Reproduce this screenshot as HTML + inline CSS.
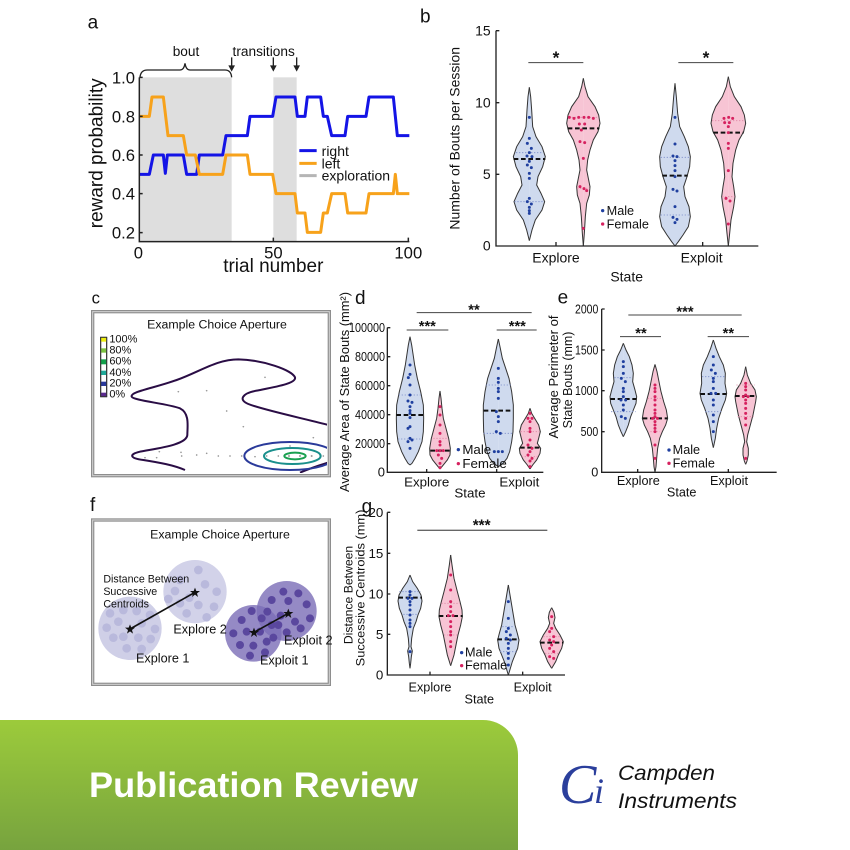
<!DOCTYPE html>
<html>
<head>
<meta charset="utf-8">
<style>
html,body{margin:0;padding:0;background:#fff;}
svg{display:block;}
text{font-family:"Liberation Sans",Arial,sans-serif;fill:#111;}
</style>
</head>
<body>
<svg width="850" height="850" viewBox="0 0 850 850" xmlns="http://www.w3.org/2000/svg">
<defs>
  <!-- panel b violins -->
  <path id="b1" d="M0,262 L4,290 L7,330 L10,380 L20,410 L38,440 L48,470 L40,500 L26,530 L22,555 L35,580 L46,605 L38,630 L18,660 L8,690 L0,722"/>
  <path id="b2" d="M0,235 L5,260 L14,290 L35,320 L46,345 L50,370 L44,395 L30,420 L20,450 L13,480 L10,510 L16,540 L20,560 L18,585 L10,610 L6,650 L3,700 L0,738"/>
  <path id="b3" d="M0,250 L4,290 L8,340 L14,380 L28,410 L40,440 L46,470 L44,500 L36,530 L26,560 L30,590 L42,620 L46,650 L40,680 L24,705 L10,725 L0,738"/>
  <path id="b4" d="M0,230 L6,260 L18,290 L38,320 L48,345 L52,370 L46,395 L32,420 L22,450 L14,490 L11,530 L16,560 L20,590 L16,620 L8,660 L4,700 L0,738"/>
  <!-- panel d -->
  <path id="d1" d="M0,155 L5,180 L8,200 L14,240 L22,280 L32,320 L40,360 L41,400 L40,440 L36,470 L25,500 L15,520 L6,535 L0,540"/>
  <path id="d2" d="M0,318 L3,340 L6,370 L10,400 L18,430 L26,460 L31,490 L30,510 L22,525 L10,540 L0,552"/>
  <path id="d3" d="M0,162 L6,190 L12,220 L22,250 L32,280 L40,320 L45,360 L45,400 L44,440 L40,470 L34,500 L26,520 L14,535 L0,545"/>
  <path id="d4" d="M0,370 L5,385 L14,400 L26,420 L31,440 L26,460 L22,475 L32,490 L30,505 L20,525 L8,540 L0,552"/>
  <!-- panel e -->
  <path id="e1" d="M0,175 L8,195 L18,215 L26,240 L30,265 L28,290 L35,315 L40,335 L38,355 L30,375 L22,395 L15,420 L7,440 L0,455"/>
  <path id="e2" d="M0,238 L6,260 L12,290 L18,320 L26,350 L34,375 L38,400 L32,420 L22,440 L14,460 L8,490 L5,520 L3,545 L0,562"/>
  <path id="e3" d="M0,165 L8,190 L18,215 L30,240 L36,265 L35,295 L40,325 L36,345 L26,370 L16,400 L10,430 L6,460 L0,488"/>
  <path id="e4" d="M0,245 L5,270 L15,295 L28,315 L32,335 L30,350 L26,370 L22,390 L14,420 L6,450 L3,470 L8,490 L8,510 L4,528 L0,538"/>
  <!-- panel g -->
  <path id="g1" d="M0,240 L8,260 L22,280 L33,300 L36,318 L32,340 L24,360 L18,380 L10,400 L5,430 L3,455 L7,468 L4,485 L2,505 L0,520"/>
  <path id="g2" d="M0,180 L4,210 L10,250 L20,290 L28,320 L34,345 L35,365 L30,390 L22,420 L16,450 L10,480 L0,512"/>
  <path id="g3" d="M0,270 L5,300 L10,330 L15,360 L20,390 L27,415 L32,435 L28,460 L20,480 L12,500 L6,520 L0,540"/>
  <path id="g4" d="M0,338 L7,352 L10,368 L6,385 L12,400 L25,420 L35,440 L30,460 L20,480 L12,500 L0,520"/>
  <clipPath id="cclip"><rect x="15" y="-48" width="696" height="477"/></clipPath>
  <linearGradient id="grn" x1="0" y1="0" x2="0" y2="1">
    <stop offset="0" stop-color="#9ccb3b"/>
    <stop offset="1" stop-color="#77a33e"/>
  </linearGradient>
</defs>

<!-- ================= PANEL A ================= -->
<g transform="translate(50,0) scale(0.333333)">
  <rect x="268" y="232" width="277" height="493" fill="#dedede"/>
  <rect x="670" y="232" width="70" height="493" fill="#dedede"/>
  <polyline fill="none" stroke="#1414e6" stroke-width="9" stroke-linejoin="round" points="268,523 298,523 310,465 340,465 346,520 352,465 400,465 410,523 440,523 448,465 518,465 528,407 592,407 600,349 668,349 678,291 735,291 742,349 765,349 772,291 812,291 820,349 832,349 845,407 885,407 893,349 948,349 957,291 1030,291 1042,407 1078,407"/>
  <polyline fill="none" stroke="#f7a21b" stroke-width="9" stroke-linejoin="round" points="268,349 298,349 306,291 340,291 354,407 400,407 410,465 436,465 448,523 518,523 528,465 592,465 600,523 668,523 678,581 735,581 742,639 765,639 772,697 812,697 820,639 832,639 845,581 885,581 893,639 948,639 957,581 1030,581 1036,523 1042,581 1078,581"/>
  <path d="M268,232 V725 H1078" fill="none" stroke="#222" stroke-width="4.5"/>
  <path d="M268,232 h10 M268,349 h10 M268,465 h10 M268,581 h10 M268,698 h10 M670,725 v-12 M1075,725 v-12" stroke="#222" stroke-width="4.5"/>
  <g font-size="50" text-anchor="end">
    <text x="255" y="250">1.0</text>
    <text x="255" y="367">0.8</text>
    <text x="255" y="483">0.6</text>
    <text x="255" y="599">0.4</text>
    <text x="255" y="716">0.2</text>
  </g>
  <g font-size="50" text-anchor="middle">
    <text x="265" y="776">0</text>
    <text x="670" y="776">50</text>
    <text x="1075" y="776">100</text>
  </g>
  <text x="670" y="816" font-size="57" text-anchor="middle">trial number</text>
  <text transform="translate(157,460) rotate(-90)" font-size="57" text-anchor="middle">reward probability</text>
  <text x="113" y="85" font-size="57">a</text>
  <path d="M270,232 Q272,210 292,210 L390,210 Q402,210 405,190 Q408,210 420,210 L525,210 Q543,210 545,232" fill="none" stroke="#222" stroke-width="4"/>
  <text x="408" y="168" font-size="41" text-anchor="middle">bout</text>
  <text x="641" y="168" font-size="41" text-anchor="middle">transitions</text>
  <path d="M545,172 V200 M670,172 V200 M740,172 V200" stroke="#222" stroke-width="4"/>
  <polygon points="535,196 555,196 545,215" fill="#222"/>
  <polygon points="660,196 680,196 670,215" fill="#222"/>
  <polygon points="730,196 750,196 740,215" fill="#222"/>
  <path d="M748,452 H800" stroke="#1414e6" stroke-width="9"/>
  <path d="M748,490 H800" stroke="#f7a21b" stroke-width="9"/>
  <path d="M748,527 H800" stroke="#b5b5b5" stroke-width="9"/>
  <g font-size="42">
    <text x="815" y="468">right</text>
    <text x="815" y="505">left</text>
    <text x="815" y="542">exploration</text>
  </g>
</g>

<!-- ================= PANEL B ================= -->
<g transform="translate(420,0) scale(0.333333)">
  <text x="0" y="68" font-size="57">b</text>
  <g stroke="#333" stroke-width="3">
    <g transform="translate(328,0)"><use href="#b1" fill="#cfdaee"/><use href="#b1" fill="#cfdaee" transform="scale(-1,1)"/></g>
    <g transform="translate(490,0)"><use href="#b2" fill="#f7c4d4"/><use href="#b2" fill="#f7c4d4" transform="scale(-1,1)"/></g>
    <g transform="translate(765,0)"><use href="#b3" fill="#cfdaee"/><use href="#b3" fill="#cfdaee" transform="scale(-1,1)"/></g>
    <g transform="translate(925,0)"><use href="#b4" fill="#f7c4d4"/><use href="#b4" fill="#f7c4d4" transform="scale(-1,1)"/></g>
  </g>
  <g stroke-width="2.5" stroke-dasharray="4 5">
    <path d="M288,458 H368 M283,605 H373 M722,472 H808 M722,645 H808" stroke="#7f90cc"/>
    <path d="M446,352 H534 M471,565 H509 M876,362 H974 M906,590 H944" stroke="#e08aa8"/>
  </g>
  <g stroke="#111" stroke-width="6" stroke-dasharray="14 8">
    <path d="M281,477 H376 M443,385 H538 M727,527 H803 M880,398 H971"/>
  </g>
  <g fill="#1f3f9f">
    <circle cx="328" cy="352" r="4.5"/><circle cx="328" cy="415" r="4.5"/><circle cx="322" cy="430" r="4.5"/><circle cx="334" cy="445" r="4.5"/><circle cx="328" cy="458" r="4.5"/><circle cx="321" cy="468" r="4.5"/><circle cx="336" cy="470" r="4.5"/><circle cx="328" cy="484" r="4.5"/><circle cx="322" cy="495" r="4.5"/><circle cx="334" cy="503" r="4.5"/><circle cx="328" cy="520" r="4.5"/><circle cx="328" cy="535" r="4.5"/><circle cx="328" cy="595" r="4.5"/><circle cx="322" cy="605" r="4.5"/><circle cx="334" cy="612" r="4.5"/><circle cx="328" cy="622" r="4.5"/><circle cx="328" cy="632" r="4.5"/><circle cx="328" cy="640" r="4.5"/>
    <circle cx="765" cy="352" r="4.5"/><circle cx="765" cy="432" r="4.5"/><circle cx="759" cy="468" r="4.5"/><circle cx="771" cy="470" r="4.5"/><circle cx="765" cy="482" r="4.5"/><circle cx="765" cy="497" r="4.5"/><circle cx="765" cy="512" r="4.5"/><circle cx="765" cy="530" r="4.5"/><circle cx="759" cy="568" r="4.5"/><circle cx="771" cy="573" r="4.5"/><circle cx="765" cy="620" r="4.5"/><circle cx="759" cy="652" r="4.5"/><circle cx="771" cy="658" r="4.5"/><circle cx="765" cy="668" r="4.5"/>
    <circle cx="548" cy="632" r="5"/>
  </g>
  <g fill="#d6215f">
    <circle cx="448" cy="352" r="4.5"/><circle cx="462" cy="355" r="4.5"/><circle cx="476" cy="352" r="4.5"/><circle cx="492" cy="352" r="4.5"/><circle cx="506" cy="352" r="4.5"/><circle cx="520" cy="355" r="4.5"/><circle cx="478" cy="372" r="4.5"/><circle cx="494" cy="372" r="4.5"/><circle cx="484" cy="390" r="4.5"/><circle cx="480" cy="425" r="4.5"/><circle cx="494" cy="428" r="4.5"/><circle cx="490" cy="475" r="4.5"/><circle cx="480" cy="560" r="4.5"/><circle cx="492" cy="566" r="4.5"/><circle cx="500" cy="572" r="4.5"/><circle cx="490" cy="685" r="4.5"/>
    <circle cx="912" cy="355" r="4.5"/><circle cx="926" cy="352" r="4.5"/><circle cx="938" cy="355" r="4.5"/><circle cx="914" cy="368" r="4.5"/><circle cx="928" cy="368" r="4.5"/><circle cx="925" cy="380" r="4.5"/><circle cx="925" cy="398" r="4.5"/><circle cx="925" cy="430" r="4.5"/><circle cx="925" cy="445" r="4.5"/><circle cx="925" cy="512" r="4.5"/><circle cx="918" cy="595" r="4.5"/><circle cx="930" cy="603" r="4.5"/><circle cx="925" cy="672" r="4.5"/>
    <circle cx="548" cy="672" r="5"/>
  </g>
  <path d="M228,92 V738 H1015" fill="none" stroke="#222" stroke-width="4"/>
  <path d="M228,92 h10 M228,308 h10 M228,523 h10 M408,738 v-12 M848,738 v-12" stroke="#222" stroke-width="4"/>
  <g font-size="42" text-anchor="end">
    <text x="212" y="106">15</text>
    <text x="212" y="322">10</text>
    <text x="212" y="537">5</text>
    <text x="212" y="752">0</text>
  </g>
  <g font-size="42" text-anchor="middle">
    <text x="408" y="788">Explore</text>
    <text x="845" y="788">Exploit</text>
    <text x="620" y="845">State</text>
  </g>
  <text transform="translate(118,415) rotate(-90)" font-size="42" text-anchor="middle">Number of Bouts per Session</text>
  <path d="M325,188 H490 M775,188 H940" stroke="#444" stroke-width="3"/>
  <g font-size="52" font-weight="bold" text-anchor="middle">
    <text x="408" y="190">*</text>
    <text x="858" y="190">*</text>
  </g>
  <g font-size="38">
    <text x="560" y="645">Male</text>
    <text x="560" y="685">Female</text>
  </g>
</g>

<!-- ================= PANEL C ================= -->
<g transform="translate(80,285) scale(0.333333)">
  <text x="35" y="56" font-size="50">c</text>
  <rect x="38" y="80" width="710" height="492" fill="#fff" stroke="#8e8e8e" stroke-width="10"/>
  <rect x="38" y="80" width="710" height="492" fill="none" stroke="#d4d4d4" stroke-width="3"/>
  <text x="411" y="130" font-size="37" text-anchor="middle">Example Choice Aperture</text>
</g>
<g transform="translate(90,330) scale(0.333333)">
  <rect x="32" y="22" width="18" height="178" fill="#fff" stroke="#222" stroke-width="3"/>
  <rect x="32" y="22" width="18" height="13" fill="#eeee10"/>
  <rect x="32" y="55" width="18" height="13" fill="#7cc242"/>
  <rect x="32" y="88" width="18" height="15" fill="#13a04a"/>
  <rect x="32" y="122" width="18" height="13" fill="#1ea898"/>
  <rect x="32" y="155" width="18" height="13" fill="#28389a"/>
  <rect x="32" y="188" width="18" height="12" fill="#5a2a8e"/>
  <rect x="32" y="22" width="18" height="178" fill="none" stroke="#333" stroke-width="3"/>
  <g font-size="33">
    <text x="58" y="38">100%</text>
    <text x="58" y="71">80%</text>
    <text x="58" y="104">60%</text>
    <text x="58" y="138">40%</text>
    <text x="58" y="170">20%</text>
    <text x="58" y="203">0%</text>
  </g>
  <g clip-path="url(#cclip)">
    <path d="M715,285 C640,265 520,240 475,222 C445,210 455,190 500,182 C560,170 620,160 615,142 C605,120 520,90 445,88 C380,88 330,125 260,150 C190,175 120,185 125,200 C130,212 230,220 270,235 C300,250 292,290 292,315 C290,345 200,355 150,365 C115,373 120,385 160,390 C210,398 250,405 285,420 M720,396 C690,405 660,415 630,428" fill="none" stroke="#2a0d45" stroke-width="6"/>
    <ellipse cx="600" cy="378" rx="137" ry="42" fill="none" stroke="#2a3a9a" stroke-width="6"/>
    <ellipse cx="607" cy="378" rx="85" ry="24" fill="none" stroke="#1a8f8c" stroke-width="6"/>
    <ellipse cx="615" cy="378" rx="32" ry="10" fill="none" stroke="#1aa050" stroke-width="6"/>
    <g fill="#999">
      <circle cx="265" cy="185" r="2.5"/><circle cx="350" cy="182" r="2.5"/><circle cx="525" cy="142" r="2.5"/><circle cx="410" cy="243" r="2.5"/><circle cx="460" cy="290" r="2.5"/><circle cx="670" cy="323" r="2.5"/><circle cx="600" cy="348" r="2.5"/>
      <circle cx="165" cy="383" r="2.5"/><circle cx="208" cy="365" r="2.5"/><circle cx="273" cy="367" r="2.5"/><circle cx="275" cy="378" r="2.5"/><circle cx="320" cy="375" r="2.5"/><circle cx="350" cy="370" r="2.5"/><circle cx="385" cy="378" r="2.5"/><circle cx="420" cy="378" r="2.5"/><circle cx="455" cy="378" r="2.5"/><circle cx="495" cy="380" r="2.5"/><circle cx="530" cy="378" r="2.5"/><circle cx="565" cy="378" r="2.5"/><circle cx="597" cy="378" r="3"/><circle cx="630" cy="378" r="3"/><circle cx="665" cy="378" r="3"/><circle cx="700" cy="378" r="2.5"/><circle cx="200" cy="383" r="2.5"/>
    </g>
  </g>
</g>

<!-- ================= PANEL D ================= -->
<g transform="translate(330,285) scale(0.333333)">
  <text x="75" y="57" font-size="57">d</text>
  <g stroke="#333" stroke-width="3">
    <g transform="translate(240,0)"><use href="#d1" fill="#cfdaee"/><use href="#d1" fill="#cfdaee" transform="scale(-1,1)"/></g>
    <g transform="translate(330,0)"><use href="#d2" fill="#f7c4d4"/><use href="#d2" fill="#f7c4d4" transform="scale(-1,1)"/></g>
    <g transform="translate(505,0)"><use href="#d3" fill="#cfdaee"/><use href="#d3" fill="#cfdaee" transform="scale(-1,1)"/></g>
    <g transform="translate(600,0)"><use href="#d4" fill="#f7c4d4"/><use href="#d4" fill="#f7c4d4" transform="scale(-1,1)"/></g>
  </g>
  <g stroke-width="2.5" stroke-dasharray="4 5">
    <path d="M206,330 H274 M204,462 H276 M467,300 H543 M461,445 H549" stroke="#7f90cc"/>
    <path d="M310,460 H350 M572,440 H628 M575,515 H625" stroke="#e08aa8"/>
  </g>
  <g stroke="#111" stroke-width="6" stroke-dasharray="14 8">
    <path d="M199,390 H281 M301,497 H359 M461,377 H549 M570,488 H630"/>
  </g>
  <g fill="#1f3f9f">
    <circle cx="240" cy="240" r="4.5"/><circle cx="240" cy="268" r="4.5"/><circle cx="235" cy="278" r="4.5"/><circle cx="240" cy="300" r="4.5"/><circle cx="240" cy="330" r="4.5"/><circle cx="234" cy="348" r="4.5"/><circle cx="246" cy="352" r="4.5"/><circle cx="240" cy="365" r="4.5"/><circle cx="240" cy="377" r="4.5"/><circle cx="240" cy="385" r="4.5"/><circle cx="240" cy="398" r="4.5"/><circle cx="240" cy="425" r="4.5"/><circle cx="234" cy="430" r="4.5"/><circle cx="240" cy="460" r="4.5"/><circle cx="246" cy="465" r="4.5"/><circle cx="234" cy="470" r="4.5"/><circle cx="240" cy="490" r="4.5"/>
    <circle cx="505" cy="250" r="4.5"/><circle cx="505" cy="280" r="4.5"/><circle cx="505" cy="292" r="4.5"/><circle cx="505" cy="310" r="4.5"/><circle cx="505" cy="320" r="4.5"/><circle cx="505" cy="340" r="4.5"/><circle cx="499" cy="380" r="4.5"/><circle cx="505" cy="395" r="4.5"/><circle cx="505" cy="410" r="4.5"/><circle cx="499" cy="440" r="4.5"/><circle cx="511" cy="445" r="4.5"/><circle cx="493" cy="500" r="4.5"/><circle cx="505" cy="500" r="4.5"/><circle cx="517" cy="500" r="4.5"/>
    <circle cx="385" cy="494" r="5"/>
  </g>
  <g fill="#d6215f">
    <circle cx="330" cy="365" r="4.5"/><circle cx="330" cy="390" r="4.5"/><circle cx="330" cy="420" r="4.5"/><circle cx="330" cy="445" r="4.5"/><circle cx="330" cy="470" r="4.5"/><circle cx="330" cy="480" r="4.5"/><circle cx="320" cy="497" r="4.5"/><circle cx="330" cy="497" r="4.5"/><circle cx="340" cy="497" r="4.5"/><circle cx="325" cy="510" r="4.5"/><circle cx="335" cy="520" r="4.5"/><circle cx="330" cy="535" r="4.5"/><circle cx="330" cy="548" r="4.5"/>
    <circle cx="600" cy="385" r="4.5"/><circle cx="594" cy="400" r="4.5"/><circle cx="606" cy="400" r="4.5"/><circle cx="600" cy="410" r="4.5"/><circle cx="600" cy="430" r="4.5"/><circle cx="600" cy="440" r="4.5"/><circle cx="600" cy="465" r="4.5"/><circle cx="594" cy="480" r="4.5"/><circle cx="606" cy="490" r="4.5"/><circle cx="600" cy="500" r="4.5"/><circle cx="594" cy="510" r="4.5"/><circle cx="606" cy="520" r="4.5"/><circle cx="600" cy="528" r="4.5"/><circle cx="600" cy="545" r="4.5"/>
    <circle cx="385" cy="536" r="5"/>
  </g>
  <path d="M172,128 V562 H640" fill="none" stroke="#222" stroke-width="4"/>
  <path d="M172,128 h9 M172,215 h9 M172,302 h9 M172,389 h9 M172,476 h9 M290,562 v-10 M500,562 v-10" stroke="#222" stroke-width="4"/>
  <g font-size="39" text-anchor="end">
    <text x="165" y="141" textLength="108" lengthAdjust="spacingAndGlyphs">100000</text>
    <text x="165" y="228" textLength="90" lengthAdjust="spacingAndGlyphs">80000</text>
    <text x="165" y="315" textLength="90" lengthAdjust="spacingAndGlyphs">60000</text>
    <text x="165" y="402" textLength="90" lengthAdjust="spacingAndGlyphs">40000</text>
    <text x="165" y="489" textLength="90" lengthAdjust="spacingAndGlyphs">20000</text>
    <text x="165" y="575">0</text>
  </g>
  <g font-size="40" text-anchor="middle">
    <text x="290" y="605">Explore</text>
    <text x="568" y="605">Exploit</text>
    <text x="420" y="637">State</text>
  </g>
  <text transform="translate(57,321) rotate(-90)" font-size="39" text-anchor="middle" textLength="600" lengthAdjust="spacingAndGlyphs">Average Area of State Bouts (mm²)</text>
  <path d="M260,83 H605 M230,135 H355 M500,135 H620" stroke="#444" stroke-width="3"/>
  <g font-size="44" font-weight="bold" text-anchor="middle">
    <text x="432" y="88">**</text>
    <text x="292" y="138">***</text>
    <text x="562" y="138">***</text>
  </g>
  <g font-size="40">
    <text x="397" y="507">Male</text>
    <text x="397" y="549">Female</text>
  </g>
</g>

<!-- ================= PANEL E ================= -->
<g transform="translate(555,285) scale(0.333333)">
  <text x="8" y="55" font-size="57">e</text>
  <g stroke="#333" stroke-width="3">
    <g transform="translate(205,0)"><use href="#e1" fill="#cfdaee"/><use href="#e1" fill="#cfdaee" transform="scale(-1,1)"/></g>
    <g transform="translate(300,0)"><use href="#e2" fill="#f7c4d4"/><use href="#e2" fill="#f7c4d4" transform="scale(-1,1)"/></g>
    <g transform="translate(475,0)"><use href="#e3" fill="#cfdaee"/><use href="#e3" fill="#cfdaee" transform="scale(-1,1)"/></g>
    <g transform="translate(572,0)"><use href="#e4" fill="#f7c4d4"/><use href="#e4" fill="#f7c4d4" transform="scale(-1,1)"/></g>
  </g>
  <g stroke-width="2.5" stroke-dasharray="4 5">
    <path d="M178,278 H232 M168,380 H242 M441,275 H509 M450,380 H500" stroke="#7f90cc"/>
    <path d="M278,340 H322 M286,440 H314 M544,300 H600 M548,395 H596" stroke="#e08aa8"/>
  </g>
  <g stroke="#111" stroke-width="6" stroke-dasharray="14 8">
    <path d="M166,342 H244 M263,400 H337 M436,327 H514 M540,333 H604"/>
  </g>
  <g fill="#1f3f9f">
    <circle cx="205" cy="230" r="4.5"/><circle cx="205" cy="245" r="4.5"/><circle cx="205" cy="265" r="4.5"/><circle cx="199" cy="280" r="4.5"/><circle cx="211" cy="290" r="4.5"/><circle cx="205" cy="310" r="4.5"/><circle cx="205" cy="320" r="4.5"/><circle cx="205" cy="335" r="4.5"/><circle cx="198" cy="345" r="4.5"/><circle cx="212" cy="345" r="4.5"/><circle cx="205" cy="360" r="4.5"/><circle cx="205" cy="375" r="4.5"/><circle cx="199" cy="395" r="4.5"/><circle cx="211" cy="400" r="4.5"/>
    <circle cx="475" cy="215" r="4.5"/><circle cx="475" cy="240" r="4.5"/><circle cx="469" cy="255" r="4.5"/><circle cx="481" cy="265" r="4.5"/><circle cx="475" cy="280" r="4.5"/><circle cx="475" cy="290" r="4.5"/><circle cx="475" cy="310" r="4.5"/><circle cx="468" cy="325" r="4.5"/><circle cx="482" cy="325" r="4.5"/><circle cx="475" cy="345" r="4.5"/><circle cx="475" cy="360" r="4.5"/><circle cx="475" cy="390" r="4.5"/><circle cx="475" cy="410" r="4.5"/><circle cx="475" cy="440" r="4.5"/>
    <circle cx="342" cy="495" r="5"/>
  </g>
  <g fill="#d6215f">
    <circle cx="300" cy="300" r="4.5"/><circle cx="300" cy="310" r="4.5"/><circle cx="300" cy="320" r="4.5"/><circle cx="300" cy="335" r="4.5"/><circle cx="300" cy="345" r="4.5"/><circle cx="300" cy="360" r="4.5"/><circle cx="300" cy="375" r="4.5"/><circle cx="300" cy="385" r="4.5"/><circle cx="300" cy="395" r="4.5"/><circle cx="293" cy="400" r="4.5"/><circle cx="307" cy="400" r="4.5"/><circle cx="300" cy="410" r="4.5"/><circle cx="300" cy="420" r="4.5"/><circle cx="300" cy="430" r="4.5"/><circle cx="300" cy="440" r="4.5"/><circle cx="300" cy="480" r="4.5"/><circle cx="300" cy="520" r="4.5"/>
    <circle cx="572" cy="295" r="4.5"/><circle cx="572" cy="305" r="4.5"/><circle cx="572" cy="315" r="4.5"/><circle cx="572" cy="330" r="4.5"/><circle cx="565" cy="335" r="4.5"/><circle cx="579" cy="335" r="4.5"/><circle cx="572" cy="345" r="4.5"/><circle cx="572" cy="355" r="4.5"/><circle cx="572" cy="370" r="4.5"/><circle cx="572" cy="385" r="4.5"/><circle cx="572" cy="400" r="4.5"/><circle cx="572" cy="420" r="4.5"/><circle cx="572" cy="520" r="4.5"/>
    <circle cx="342" cy="535" r="5"/>
  </g>
  <path d="M140,72 V562 H665" fill="none" stroke="#222" stroke-width="4"/>
  <path d="M140,72 h9 M140,195 h9 M140,317 h9 M140,440 h9 M248,562 v-10 M520,562 v-10" stroke="#222" stroke-width="4"/>
  <g font-size="38" text-anchor="end">
    <text x="130" y="85" textLength="70" lengthAdjust="spacingAndGlyphs">2000</text>
    <text x="130" y="208" textLength="70" lengthAdjust="spacingAndGlyphs">1500</text>
    <text x="130" y="330" textLength="70" lengthAdjust="spacingAndGlyphs">1000</text>
    <text x="130" y="453" textLength="53" lengthAdjust="spacingAndGlyphs">500</text>
    <text x="130" y="575">0</text>
  </g>
  <g font-size="38" text-anchor="middle">
    <text x="250" y="600">Explore</text>
    <text x="522" y="600">Exploit</text>
    <text x="380" y="635">State</text>
  </g>
  <text transform="translate(9,276) rotate(-90)" font-size="38" text-anchor="middle" textLength="369" lengthAdjust="spacingAndGlyphs">Average Perimeter of</text>
  <text transform="translate(51,285) rotate(-90)" font-size="38" text-anchor="middle" textLength="290" lengthAdjust="spacingAndGlyphs">State Bouts (mm)</text>
  <path d="M220,90 H560 M195,155 H318 M458,155 H582" stroke="#444" stroke-width="3"/>
  <g font-size="44" font-weight="bold" text-anchor="middle">
    <text x="390" y="94">***</text>
    <text x="258" y="159">**</text>
    <text x="520" y="159">**</text>
  </g>
  <g font-size="38">
    <text x="353" y="507">Male</text>
    <text x="353" y="547">Female</text>
  </g>
</g>

<!-- ================= PANEL F ================= -->
<g transform="translate(80,485) scale(0.333333)">
  <text x="30" y="78" font-size="57">f</text>
  <rect x="38" y="105" width="710" height="493" fill="#fff" stroke="#8e8e8e" stroke-width="10"/>
  <rect x="38" y="105" width="710" height="493" fill="none" stroke="#d4d4d4" stroke-width="3"/>
  <text x="420" y="160" font-size="37" text-anchor="middle">Example Choice Aperture</text>
  <circle cx="150" cy="430" r="95" fill="#cfcfe7"/>
  <circle cx="345" cy="320" r="95" fill="#d2d2e9"/>
  <g fill="#b9b9dc">
    <circle cx="90" cy="385" r="13"/><circle cx="130" cy="375" r="13"/><circle cx="170" cy="378" r="13"/><circle cx="210" cy="390" r="13"/><circle cx="80" cy="428" r="13"/><circle cx="115" cy="410" r="13"/><circle cx="185" cy="415" r="13"/><circle cx="225" cy="432" r="13"/><circle cx="100" cy="458" r="13"/><circle cx="130" cy="455" r="13"/><circle cx="175" cy="458" r="13"/><circle cx="212" cy="462" r="13"/><circle cx="140" cy="490" r="13"/><circle cx="185" cy="492" r="13"/>
    <circle cx="355" cy="255" r="13"/><circle cx="300" cy="285" r="13"/><circle cx="375" cy="298" r="13"/><circle cx="285" cy="318" r="13"/><circle cx="328" cy="338" r="13"/><circle cx="410" cy="320" r="13"/><circle cx="300" cy="355" r="13"/><circle cx="355" cy="360" r="13"/><circle cx="402" cy="365" r="13"/><circle cx="320" cy="385" r="13"/><circle cx="380" cy="397" r="13"/><circle cx="265" cy="342" r="13"/>
  </g>
  <circle cx="520" cy="445" r="85" fill="#7a6db6" fill-opacity="0.8"/>
  <circle cx="620" cy="378" r="90" fill="#7a6db6" fill-opacity="0.8"/>
  <g fill="#5a479e">
    <circle cx="515" cy="378" r="12"/><circle cx="485" cy="405" r="12"/><circle cx="545" cy="400" r="12"/><circle cx="575" cy="420" r="12"/><circle cx="460" cy="445" r="12"/><circle cx="500" cy="440" r="12"/><circle cx="540" cy="440" r="12"/><circle cx="580" cy="458" r="12"/><circle cx="480" cy="480" r="12"/><circle cx="520" cy="482" r="12"/><circle cx="560" cy="470" r="12"/><circle cx="510" cy="512" r="12"/><circle cx="555" cy="502" r="12"/>
    <circle cx="610" cy="320" r="12"/><circle cx="655" cy="325" r="12"/><circle cx="575" cy="345" r="12"/><circle cx="625" cy="348" r="12"/><circle cx="680" cy="358" r="12"/><circle cx="562" cy="380" r="12"/><circle cx="602" cy="392" r="12"/><circle cx="690" cy="400" r="12"/><circle cx="645" cy="410" r="12"/><circle cx="595" cy="420" r="12"/><circle cx="662" cy="430" r="12"/><circle cx="620" cy="442" r="12"/>
  </g>
  <path d="M150,432 L345,322 M522,442 L625,385" stroke="#111" stroke-width="5"/>
  <g fill="#111">
    <polygon points="150,418 154,428 165,428 156,435 159,446 150,439 141,446 144,435 135,428 146,428"/>
    <polygon points="345,308 349,318 360,318 351,325 354,336 345,329 336,336 339,325 330,318 341,318"/>
    <polygon points="522,428 526,438 537,438 528,445 531,456 522,449 513,456 516,445 507,438 518,438"/>
    <polygon points="625,371 629,381 640,381 631,388 634,399 625,392 616,399 619,388 610,381 621,381"/>
  </g>
  <g font-size="32">
    <text x="70" y="292">Distance Between</text>
    <text x="70" y="330">Successive</text>
    <text x="70" y="368">Centroids</text>
  </g>
  <g font-size="38">
    <text x="280" y="445">Explore 2</text>
    <text x="168" y="532">Explore 1</text>
    <text x="612" y="478">Exploit 2</text>
    <text x="540" y="538">Exploit 1</text>
  </g>
</g>

<!-- ================= PANEL G ================= -->
<g transform="translate(330,495) scale(0.333333)">
  <text x="95" y="52" font-size="57">g</text>
  <g stroke="#333" stroke-width="3">
    <g transform="translate(240,0)"><use href="#g1" fill="#cfdaee"/><use href="#g1" fill="#cfdaee" transform="scale(-1,1)"/></g>
    <g transform="translate(362,0)"><use href="#g2" fill="#f7c4d4"/><use href="#g2" fill="#f7c4d4" transform="scale(-1,1)"/></g>
    <g transform="translate(535,0)"><use href="#g3" fill="#cfdaee"/><use href="#g3" fill="#cfdaee" transform="scale(-1,1)"/></g>
    <g transform="translate(665,0)"><use href="#g4" fill="#f7c4d4"/><use href="#g4" fill="#f7c4d4" transform="scale(-1,1)"/></g>
  </g>
  <g stroke-width="2.5" stroke-dasharray="4 5">
    <path d="M208,290 H272 M220,358 H260 M517,395 H553 M510,470 H560" stroke="#7f90cc"/>
    <path d="M334,325 H390 M342,420 H382 M640,425 H690 M645,475 H685" stroke="#e08aa8"/>
  </g>
  <g stroke="#111" stroke-width="6" stroke-dasharray="14 8">
    <path d="M205,308 H276 M326,363 H398 M502,433 H568 M630,443 H700"/>
  </g>
  <g fill="#1f3f9f">
    <circle cx="240" cy="290" r="4.5"/><circle cx="240" cy="300" r="4.5"/><circle cx="234" cy="310" r="4.5"/><circle cx="246" cy="310" r="4.5"/><circle cx="240" cy="320" r="4.5"/><circle cx="240" cy="330" r="4.5"/><circle cx="240" cy="345" r="4.5"/><circle cx="240" cy="360" r="4.5"/><circle cx="240" cy="375" r="4.5"/><circle cx="240" cy="385" r="4.5"/><circle cx="240" cy="395" r="4.5"/><circle cx="240" cy="470" r="4.5"/>
    <circle cx="535" cy="320" r="4.5"/><circle cx="535" cy="370" r="4.5"/><circle cx="535" cy="400" r="4.5"/><circle cx="529" cy="410" r="4.5"/><circle cx="541" cy="420" r="4.5"/><circle cx="529" cy="430" r="4.5"/><circle cx="541" cy="435" r="4.5"/><circle cx="535" cy="445" r="4.5"/><circle cx="535" cy="460" r="4.5"/><circle cx="535" cy="475" r="4.5"/><circle cx="535" cy="490" r="4.5"/><circle cx="535" cy="510" r="4.5"/>
    <circle cx="395" cy="473" r="5"/>
  </g>
  <g fill="#d6215f">
    <circle cx="362" cy="240" r="4.5"/><circle cx="362" cy="285" r="4.5"/><circle cx="362" cy="320" r="4.5"/><circle cx="362" cy="335" r="4.5"/><circle cx="362" cy="350" r="4.5"/><circle cx="355" cy="362" r="4.5"/><circle cx="369" cy="362" r="4.5"/><circle cx="362" cy="380" r="4.5"/><circle cx="362" cy="395" r="4.5"/><circle cx="362" cy="410" r="4.5"/><circle cx="362" cy="420" r="4.5"/><circle cx="362" cy="440" r="4.5"/><circle cx="362" cy="455" r="4.5"/>
    <circle cx="665" cy="365" r="4.5"/><circle cx="665" cy="400" r="4.5"/><circle cx="659" cy="410" r="4.5"/><circle cx="671" cy="425" r="4.5"/><circle cx="659" cy="435" r="4.5"/><circle cx="671" cy="440" r="4.5"/><circle cx="665" cy="450" r="4.5"/><circle cx="659" cy="460" r="4.5"/><circle cx="671" cy="470" r="4.5"/><circle cx="659" cy="485" r="4.5"/><circle cx="671" cy="490" r="4.5"/>
    <circle cx="395" cy="512" r="5"/>
  </g>
  <path d="M172,52 V540 H705" fill="none" stroke="#222" stroke-width="4"/>
  <path d="M172,52 h9 M172,175 h9 M172,297 h9 M172,418 h9 M300,540 v-10 M578,540 v-10" stroke="#222" stroke-width="4"/>
  <g font-size="40" text-anchor="end">
    <text x="160" y="66">20</text>
    <text x="160" y="189">15</text>
    <text x="160" y="311">10</text>
    <text x="160" y="432">5</text>
    <text x="160" y="554">0</text>
  </g>
  <g font-size="38" text-anchor="middle">
    <text x="300" y="590">Explore</text>
    <text x="608" y="590">Exploit</text>
    <text x="448" y="625">State</text>
  </g>
  <text transform="translate(67,300) rotate(-90)" font-size="37" text-anchor="middle" textLength="295" lengthAdjust="spacingAndGlyphs">Distance Between</text>
  <text transform="translate(103,279) rotate(-90)" font-size="37" text-anchor="middle" textLength="470" lengthAdjust="spacingAndGlyphs">Successive Centroids (mm)</text>
  <path d="M262,106 H652" stroke="#666" stroke-width="4"/>
  <g font-size="46" font-weight="bold" text-anchor="middle">
    <text x="455" y="107">***</text>
  </g>
  <g font-size="38">
    <text x="405" y="485">Male</text>
    <text x="405" y="524">Female</text>
  </g>
</g>

<!-- ================= BANNER ================= -->
<path d="M0,720 H483 A35,35 0 0 1 518,755 V850 H0 Z" fill="url(#grn)"/>
<text x="89" y="797" font-size="35" font-weight="bold" fill="#fff" style="fill:#fff" textLength="329" lengthAdjust="spacingAndGlyphs">Publication Review</text>

<!-- logo -->
<text x="559" y="803" font-family="Liberation Serif, serif" font-style="italic" font-size="56" style="fill:#2b3f9c;font-family:'Liberation Serif',serif">C</text>
<text x="594" y="803" font-family="Liberation Serif, serif" font-style="italic" font-size="36" style="fill:#2b3f9c;font-family:'Liberation Serif',serif">i</text>
<text x="618" y="780" font-size="21" font-style="italic" textLength="97" lengthAdjust="spacingAndGlyphs">Campden</text>
<text x="618" y="808" font-size="21" font-style="italic" textLength="119" lengthAdjust="spacingAndGlyphs">Instruments</text>
</svg>
</body>
</html>
